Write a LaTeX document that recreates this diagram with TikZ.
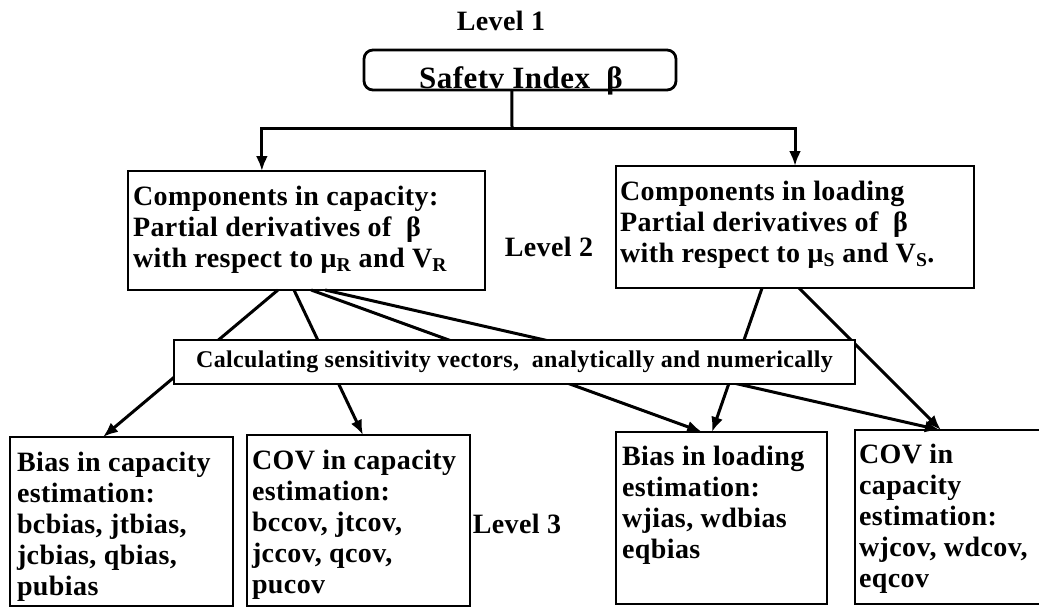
\documentclass[tikz,border=0pt]{standalone}
\usepackage{fontspec}
\setmainfont[LetterSpace=1.5]{Liberation Serif}
\usetikzlibrary{arrows.meta,calc}
\pgfdeclarelayer{background}
\pgfsetlayers{background,main}
\newcommand{\boxlines}[1]{\parbox[t]{400pt}{\raggedright #1}}
\tikzset{
  box/.style={draw, line width=2.8pt, rectangle, inner sep=0pt, outer sep=0pt, anchor=north west},
  lbl/.style={anchor=base west, inner sep=0pt, outer sep=0pt, font=\bfseries\fontsize{28}{31}\selectfont},
  lvl/.style={anchor=base, inner sep=0pt, font=\bfseries\fontsize{28}{31}\selectfont},
  conn/.style={line width=3pt},
  arr/.style={line width=3pt, -{Latex[length=15pt,width=12pt]}},
}
\begin{document}
\begin{tikzpicture}[x=1pt,y=-1pt]
\clip (0,0) rectangle (1039,608);
% Level 1
\node[lvl] (lv1) at (501,30) {Level 1};
\node[box, rounded corners=9pt, minimum width=312pt, minimum height=40pt] (si) at (364,50) {};
\node[anchor=base, inner sep=0pt, font=\bfseries\fontsize{31}{34}\selectfont] (sit) at (521,88) {Safetv Index\ \ β};
% Level 2
\node[box, minimum width=357pt, minimum height=119pt] (capL) at (128,171) {};
\node[lbl] (capLt) at ($(capL.north west)+(5,34)$)
  {\boxlines{Components in capacity:\\Partial derivatives of\ \ β\\with respect to μ\textsubscript{R} and V\textsubscript{R}}};
\node[box, minimum width=358pt, minimum height=122pt] (capR) at (616,166) {};
\node[lbl] (capRt) at ($(capR.north west)+(4,34)$)
  {\boxlines{Components in loading\\Partial derivatives of\ \ β\\with respect to μ\textsubscript{S} and V\textsubscript{S}.}};
\node[lvl] (lv2) at (549,256) {Level 2};
% middle
\node[draw, line width=1.4pt, fill=white, inner sep=0pt, outer sep=0pt, anchor=north west,
      minimum width=681pt, minimum height=44pt, font=\bfseries\fontsize{24}{28}\selectfont] (mid) at (174,340)
  {Calculating sensitivity vectors,\ \ analytically and numerically};
% Level 3
\node[box, minimum width=223pt, minimum height=169pt] (b1) at (10,437) {};
\node[lbl] (b1t) at ($(b1.north west)+(7,34)$)
  {\boxlines{Bias in capacity\\estimation:\\bcbias, jtbias,\\jcbias, qbias,\\pubias}};
\node[box, minimum width=223pt, minimum height=171pt] (b2) at (247,435) {};
\node[lbl] (b2t) at ($(b2.north west)+(5,34)$)
  {\boxlines{COV in capacity\\estimation:\\bccov, jtcov,\\jccov, qcov,\\pucov}};
\node[box, minimum width=211pt, minimum height=172pt] (b3) at (616,432) {};
\node[lbl] (b3t) at ($(b3.north west)+(6,33)$)
  {\boxlines{Bias in loading\\estimation:\\wjias, wdbias\\eqbias}};
\node[box, minimum width=190pt, minimum height=174pt] (b4) at (855,430) {};
\node[lbl] (b4t) at ($(b4.north west)+(4,33)$)
  {\boxlines{COV in\\capacity\\estimation:\\wjcov, wdcov,\\eqcov}};
\node[lvl] (lv3) at (517,533) {Level 3};
% connectors
\begin{pgfonlayer}{background}
\coordinate (J) at (512,128);
\draw[conn] ($(si.south west)!0.474!(si.south east)$) -- (J);
\draw[arr] (J) -| ($(capL.north west)!0.375!(capL.north east)$);
\draw[arr] (J) -| ($(capR.north west)!0.5!(capR.north east)$);
\draw[arr] ($(capL.south west)!0.42!(capL.south east)$) -- ($(b1.north west)!0.417!(b1.north east)$);
\draw[arr] ($(capL.south west)!0.465!(capL.south east)$) -- ($(b2.north west)!0.52!(b2.north east)$);
\draw[arr] ($(capL.south west)!0.513!(capL.south east)$) -- ($(b3.north west)!0.408!(b3.north east)$);
\draw[arr] ($(capL.south west)!0.552!(capL.south east)$) -- ($(b4.north west)!0.447!(b4.north east)$);
\draw[arr] ($(capR.south west)!0.408!(capR.south east)$) -- ($(b3.north west)!0.455!(b3.north east)$);
\draw[arr] ($(capR.south west)!0.511!(capR.south east)$) -- ($(b4.north west)!0.452!(b4.north east)$);
\end{pgfonlayer}
\end{tikzpicture}
\end{document}
